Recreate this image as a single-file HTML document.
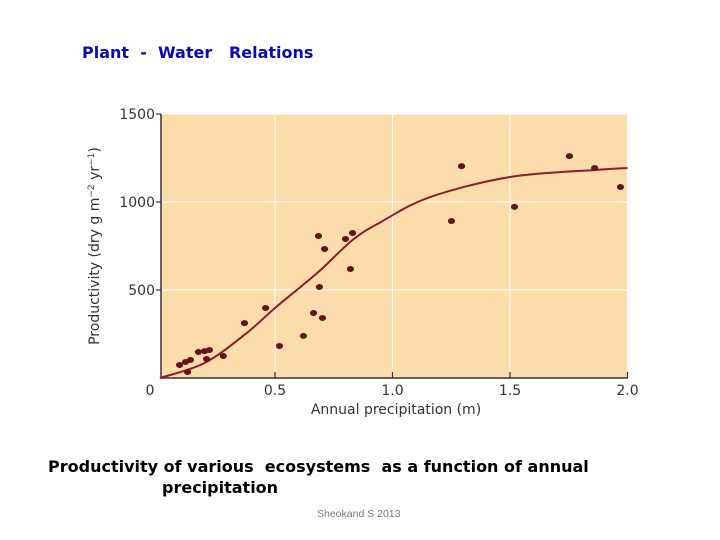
<!DOCTYPE html>
<html><head><meta charset="utf-8"><style>
body{margin:0;width:720px;height:540px;background:#fff;overflow:hidden;position:relative;font-family:"DejaVu Sans","Liberation Sans",sans-serif}
.t{position:absolute;white-space:pre}
</style></head><body>
<div class="t" style="left:82px;top:43px;font-size:16px;font-weight:bold;color:#0a0ab8;">Plant  -  Water   Relations</div>
<svg id="chart" width="720" height="540" style="position:absolute;left:0;top:0" font-family="DejaVu Sans, Liberation Sans, sans-serif"></svg>
<div class="t" style="left:48px;top:456px;font-size:16px;font-weight:bold;color:#000;line-height:21px">Productivity of various  ecosystems  as a function of annual</div>
<div class="t" style="left:162px;top:477px;font-size:16px;font-weight:bold;color:#000;line-height:21px">precipitation</div>
<div class="t" style="left:317px;top:508px;font-size:10.5px;color:#777;font-family:'Liberation Sans',sans-serif">Sheokand S 2013</div>
<script>
const xTicks=[0,0.5,1.0,1.5,2.0];
const xTickLabels=["0","0.5","1.0","1.5","2.0"];
const yTicks=[500,1000,1500];
const yTickLabels=["500","1000","1500"];
const pointX=[0.094,0.119,0.14,0.128,0.174,0.2,0.221,0.209,0.28,0.37,0.46,0.519,0.621,0.664,0.702,0.689,0.685,0.711,0.8,0.83,0.821,1.294,1.251,1.519,1.753,1.86,1.97];
const pointY=[74,91,102,34,148,153,159,108,125,312,398,182,239,369,341,517,807,733,790,824,619,1204,892,972,1261,1193,1085];
const curveX=[0.01,0.2,0.38,0.5,0.68,0.83,0.95,1.16,1.5,1.86,2.0];
const curveY=[0,85,256,398,597,784,886,1028,1142,1182,1193];
const NS="http://www.w3.org/2000/svg";
const svg=document.getElementById('chart');
const sx=v=>157.5+v*235;
const sy=v=>378-v*0.176;
function mk(tag,attrs){const e=document.createElementNS(NS,tag);for(const k in attrs)e.setAttribute(k,attrs[k]);svg.appendChild(e);return e;}
const bg=mk('rect',{x:161,y:114,width:467,height:264,fill:'#fddcab'});


xTicks.forEach((v,i)=>{
  if(v>0){const g=mk('line',{x1:sx(v),x2:sx(v),y1:114,y2:378,stroke:'#fff','stroke-width':1});
  
  
  const tk=mk('line',{x1:sx(v),x2:sx(v),y1:372,y2:378,stroke:'#333','stroke-width':1.2});
  
  
  const t=mk('text',{x:sx(v),y:395,'text-anchor':'middle','font-size':14,fill:'#333'});
  t.textContent=xTickLabels[i];
  
  }
});
yTicks.forEach((v,i)=>{
  const g=mk('line',{x1:161,x2:628,y1:sy(v),y2:sy(v),stroke:'#fff','stroke-width':1});
  
  
  const tk=mk('line',{x1:156,x2:161,y1:sy(v),y2:sy(v),stroke:'#333','stroke-width':1.2});
  
  
  const t=mk('text',{x:155,y:sy(v)+5,'text-anchor':'end','font-size':14,fill:'#333'});
  t.textContent=yTickLabels[i];
  
  
});
const z=mk('text',{x:150,y:395,'text-anchor':'middle','font-size':14,fill:'#333'});z.textContent='0';


const xa=mk('line',{x1:161,x2:628,y1:378,y2:378,stroke:'#333','stroke-width':1.5});


const ya=mk('line',{x1:161,x2:161,y1:114,y2:378,stroke:'#333','stroke-width':1.5});


const xt=mk('text',{x:396,y:414,'text-anchor':'middle','font-size':14,fill:'#333'});xt.textContent='Annual precipitation (m)';


const yt=mk('text',{x:0,y:0,'text-anchor':'middle','font-size':14,fill:'#333',transform:'translate(99,246) rotate(-90)'});
yt.innerHTML='Productivity (dry g m<tspan dy="-5" font-size="9">−2</tspan><tspan dy="5"> yr</tspan><tspan dy="-5" font-size="9">−1</tspan><tspan dy="5">)</tspan>';


const P=curveX.map((v,i)=>[sx(v),sy(curveY[i])]);
let d='M'+P[0][0]+','+P[0][1];
for(let i=0;i<P.length-1;i++){const p0=P[i-1]||P[i],p1=P[i],p2=P[i+1],p3=P[i+2]||P[i+1];
d+=` C${p1[0]+(p2[0]-p0[0])/6},${p1[1]+(p2[1]-p0[1])/6} ${p2[0]-(p3[0]-p1[0])/6},${p2[1]-(p3[1]-p1[1])/6} ${p2[0]},${p2[1]}`;}
const c=mk('path',{d:d,fill:'none',stroke:'#8e1b2e','stroke-width':2});


pointX.forEach((v,i)=>{const e=mk('ellipse',{cx:sx(v),cy:sy(pointY[i]),rx:3.6,ry:3,fill:'#6a0f1c'});

});
</script>
</body></html>
